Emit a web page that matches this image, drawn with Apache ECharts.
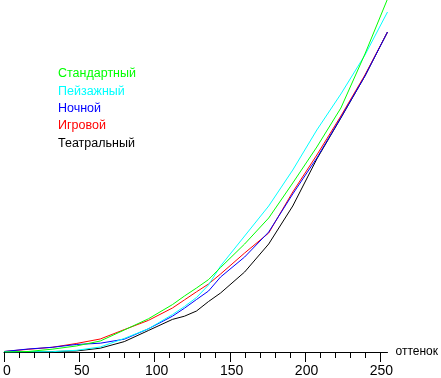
<!DOCTYPE html>
<html>
<head>
<meta charset="utf-8">
<script src="https://cdn.jsdelivr.net/npm/echarts@6/dist/echarts.min.js"></script>
<style>
html,body{margin:0;padding:0;background:#fff;}
#chart{width:441px;height:378px;}
</style>
</head>
<body>
<div id="chart"></div>
<script>
// Hue (оттенок) sample positions
const xs = [0,16,32,48,64,80,96,112,120,128,136,144,160,176,192,208,224,240,255];
const names = ['Стандартный','Пейзажный','Ночной','Игровой','Театральный'];
const colors = ['#00ff00','#00ffff','#0000ff','#ff0000','#000000'];
const standard  = [0,0.5,2.8,6,11,22,33.2,47.4,56,64,72.4,84.5,108,134,169,205,244,298,353];
const landscape = [0,0.3,0.3,1.7,5,13.6,23.2,37.4,45.5,54.5,67,86,116,146,182,222,258,297,340];
const night     = [0.5,3,4.7,7.5,8.8,12.8,23.2,35.8,43.8,52.5,61,75,95,120,158,194,234.5,276,320];
const game      = [0.5,2.7,4.7,8.5,13,22.4,31.6,44,52.1,60.2,68,78,99,119,160,197,236,277,320];
const theatre   = [0,0.2,0.5,1,3.8,10.4,21.5,32.6,35.8,41,50.5,59,80,108,146,193,234,276,320];
const xMax = 255;        // data range of hue
const tickMax = 250;     // last labelled tick
const majorStep = 50;
const tickValues = [0,10,20,30,40,50,60,70,80,90,100,110,120,130,140,150,160,170,180,190,200,210,220,230,240,250];
const majorTickValues = [0,50,100,150,200,250];
const seriesValues = [standard, landscape, night, game, theatre];

const chart = echarts.init(document.getElementById('chart'), null, {renderer:'canvas'});
const font = '"Liberation Sans", Arial, sans-serif';
const drawOrder = [4,3,2,1,0];
const plotLeft = 4, plotRight = 389;
const tickRight = plotLeft + (plotRight - plotLeft) * tickMax / xMax;
const series = drawOrder.map(i=>({
  name:names[i], type:'line', xAxisIndex:0, yAxisIndex:0, symbol:'none', smooth:false,
  lineStyle:{color:colors[i],width:1}, itemStyle:{color:colors[i]},
  data:xs.map((x,k)=>[x,seriesValues[i][k]])
}));
// axis ticks (major long, minor short), placed through the x scale
series.push({
  name:'_ticks', type:'custom', coordinateSystem:'cartesian2d', xAxisIndex:0, yAxisIndex:0,
  silent:true, clip:false, z:10,
  data:tickValues.map(v=>[v,0,majorTickValues.indexOf(v)>=0?1:0]),
  renderItem:function(params, api){
    const p = api.coord([api.value(0), 0]);
    const len = api.value(2) ? 10 : 6;
    const x = Math.round(p[0]) + 0.5;
    const y = Math.round(p[1]);
    return {type:'line', shape:{x1:x,y1:y,x2:x,y2:y+len}, style:{stroke:'#000',lineWidth:1}};
  }
});
// empty helper series so that the label axis is laid out
series.push({name:'_labels', type:'line', xAxisIndex:1, yAxisIndex:1, symbol:'none', data:[], silent:true});
const hiddenY = (g)=>({type:'value',min:0,max:352,show:false,gridIndex:g});
chart.setOption({
  animation:false,
  backgroundColor:'#ffffff',
  grid:[
    {left:plotLeft,right:441-plotRight,top:0,bottom:26,containLabel:false},
    {left:plotLeft,right:441-tickRight,top:0,bottom:26,containLabel:false}
  ],
  legend:{
    orient:'vertical', left:48, top:62, icon:'none', itemWidth:0, itemHeight:14, itemGap:3.8,
    selectedMode:false,
    textStyle:{fontFamily:font,fontSize:12.5},
    data:names.map((n,i)=>({name:n,textStyle:{color:colors[i]}}))
  },
  xAxis:[{
    gridIndex:0, type:'value', min:0, max:xMax, position:'bottom',
    name:'оттенок', nameLocation:'end', nameGap:8,
    nameTextStyle:{color:'#000',fontFamily:font,fontSize:12,verticalAlign:'middle',padding:[2,0,0,0]},
    axisLine:{show:true,lineStyle:{color:'#000',width:1}},
    axisTick:{show:false},
    axisLabel:{show:false},
    splitLine:{show:false}
  },{
    gridIndex:1, type:'value', min:0, max:tickMax, interval:majorStep, position:'bottom',
    axisLine:{show:false},
    axisTick:{show:false},
    axisLabel:{color:'#000',fontFamily:font,fontSize:14,margin:14},
    splitLine:{show:false}
  }],
  yAxis:[hiddenY(0),hiddenY(1)],
  series:series
});
</script>
</body>
</html>
